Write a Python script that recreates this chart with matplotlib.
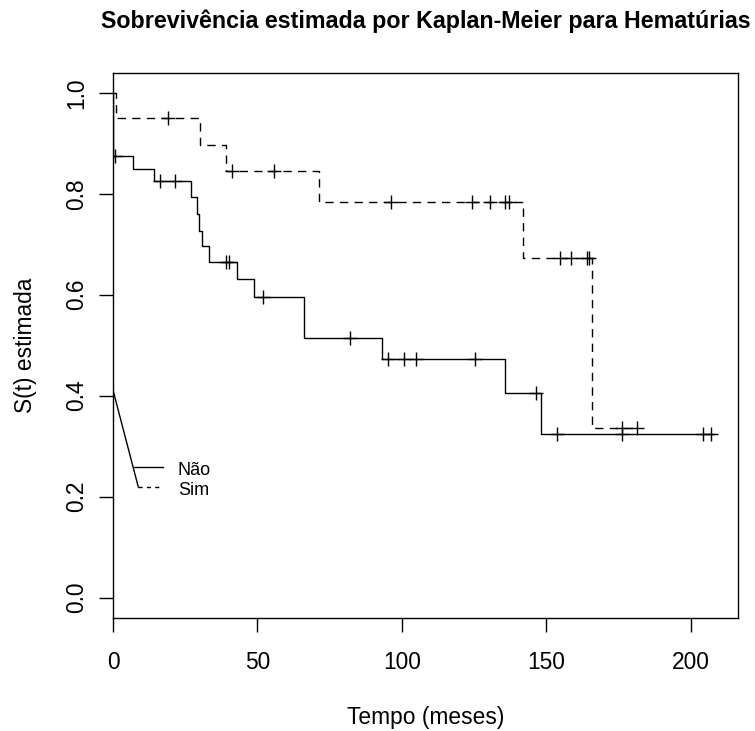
import matplotlib
matplotlib.use("Agg")
import matplotlib.pyplot as plt
import numpy as np

plt.rcParams['font.family'] = ['Liberation Sans', 'DejaVu Sans']

# ----------------------------------------------
# Curvas de Kaplan-Meier
# ----------------------------------------------
# Grupo "Não" (linha cheia)
nao_t = [0, 0, 7.0, 14.3, 26.9, 29.1, 29.9, 30.9, 33.2, 43.1, 48.9, 66.2, 93.2, 135.9, 148.1]
nao_s = [1.0, 0.874, 0.849, 0.825, 0.794, 0.760, 0.727, 0.696, 0.664, 0.632, 0.596, 0.514, 0.473, 0.406, 0.324]
nao_fim = 208.0
nao_cens = [0.7, 16.3, 21.5, 39.3, 40.1, 52.1, 82.1, 95.1, 100.7, 104.8, 125.3,
            146.4, 153.8, 176.3, 204.3, 207.2]

# Grupo "Sim" (linha tracejada)
sim_t = [0, 0.9, 30.1, 39.1, 71.3, 142.1, 166.0]
sim_s = [1.0, 0.950, 0.897, 0.846, 0.783, 0.673, 0.335]
sim_fim = 181.5
sim_cens = [19.2, 41.3, 55.8, 96.2, 124.2, 130.7, 135.9, 137.0, 154.7, 158.7,
            164.2, 164.9, 176.1, 181.5]

grupos = ["Não", "Sim"]
estilos = ["-", (0, (6, 4.5))]

# legenda "torta" como no original (pontos em unidades dos dados)
leg_origem = (0.0, 0.411)
leg_fim = (8.76, 0.219)
leg_x0, leg_x1, leg_xt = 7.0, 17.4, 22.5
leg_y = [0.258, 0.219]

fig = plt.figure(figsize=(7.55, 7.31), dpi=100)
ax = fig.add_axes([113/755, 1 - 617.7/731, (737.7 - 113)/755, (617.7 - 72.7)/731])


def km(ax, t, s, fim, cens, ls):
    x = list(t) + [fim]
    y = list(s) + [s[-1]]
    ax.step(x, y, where='post', color='black', lw=1.0, linestyle=ls)
    idx = np.searchsorted(t, cens, side='right') - 1
    ax.plot(cens, np.array(s)[idx], linestyle='none', marker='+',
            color='black', markersize=10, markeredgewidth=1.0)


km(ax, nao_t, nao_s, nao_fim, nao_cens, estilos[0])
km(ax, sim_t, sim_s, sim_fim, sim_cens, estilos[1])

# legenda
ax.plot([leg_origem[0], leg_fim[0]], [leg_origem[1], leg_fim[1]], color='black', lw=1.0)
ax.plot([leg_x0, leg_x1], [leg_y[0], leg_y[0]], color='black', lw=1.0, linestyle=estilos[0])
ax.plot([leg_fim[0], leg_x1], [leg_y[1], leg_y[1]], color='black', lw=1.0, linestyle=(0, (3, 3)))
for g, yy in zip(grupos, leg_y):
    ax.text(leg_xt, yy - 0.006, g, fontsize=13, va='center', ha='left')

ax.set_xlim(0, nao_fim * 1.04)
ax.set_ylim(-0.04, 1.04)
ax.set_xticks([0, 50, 100, 150, 200])
ax.set_yticks([0.0, 0.2, 0.4, 0.6, 0.8, 1.0])
ax.set_yticklabels(["0.0", "0.2", "0.4", "0.6", "0.8", "1.0"], rotation=90, va='center')
ax.tick_params(axis='both', length=9.8, width=1.0, labelsize=16.4, direction='out')
ax.tick_params(axis='x', pad=14)
ax.tick_params(axis='y', pad=8)
for sp in ax.spines.values():
    sp.set_linewidth(1.0)

ax.set_xlabel("Tempo (meses)", fontsize=16.4, labelpad=23)
ax.set_ylabel("S(t) estimada", fontsize=16.4, labelpad=20)

# título: largura ~647 px, centrado no eixo, linha de base em y=28 px
titulo = fig.text((113 + 737.7) / 2 / 755, 1 - 28.3/731,
                  "Sobrevivência estimada por Kaplan-Meier para Hematúrias",
                  fontsize=16.4, fontweight='bold', ha='center', va='baseline')
fig.canvas.draw()
larg = titulo.get_window_extent().width
titulo.set_fontsize(16.4 * 647 / larg)

fig.savefig("out.png", dpi=100)
